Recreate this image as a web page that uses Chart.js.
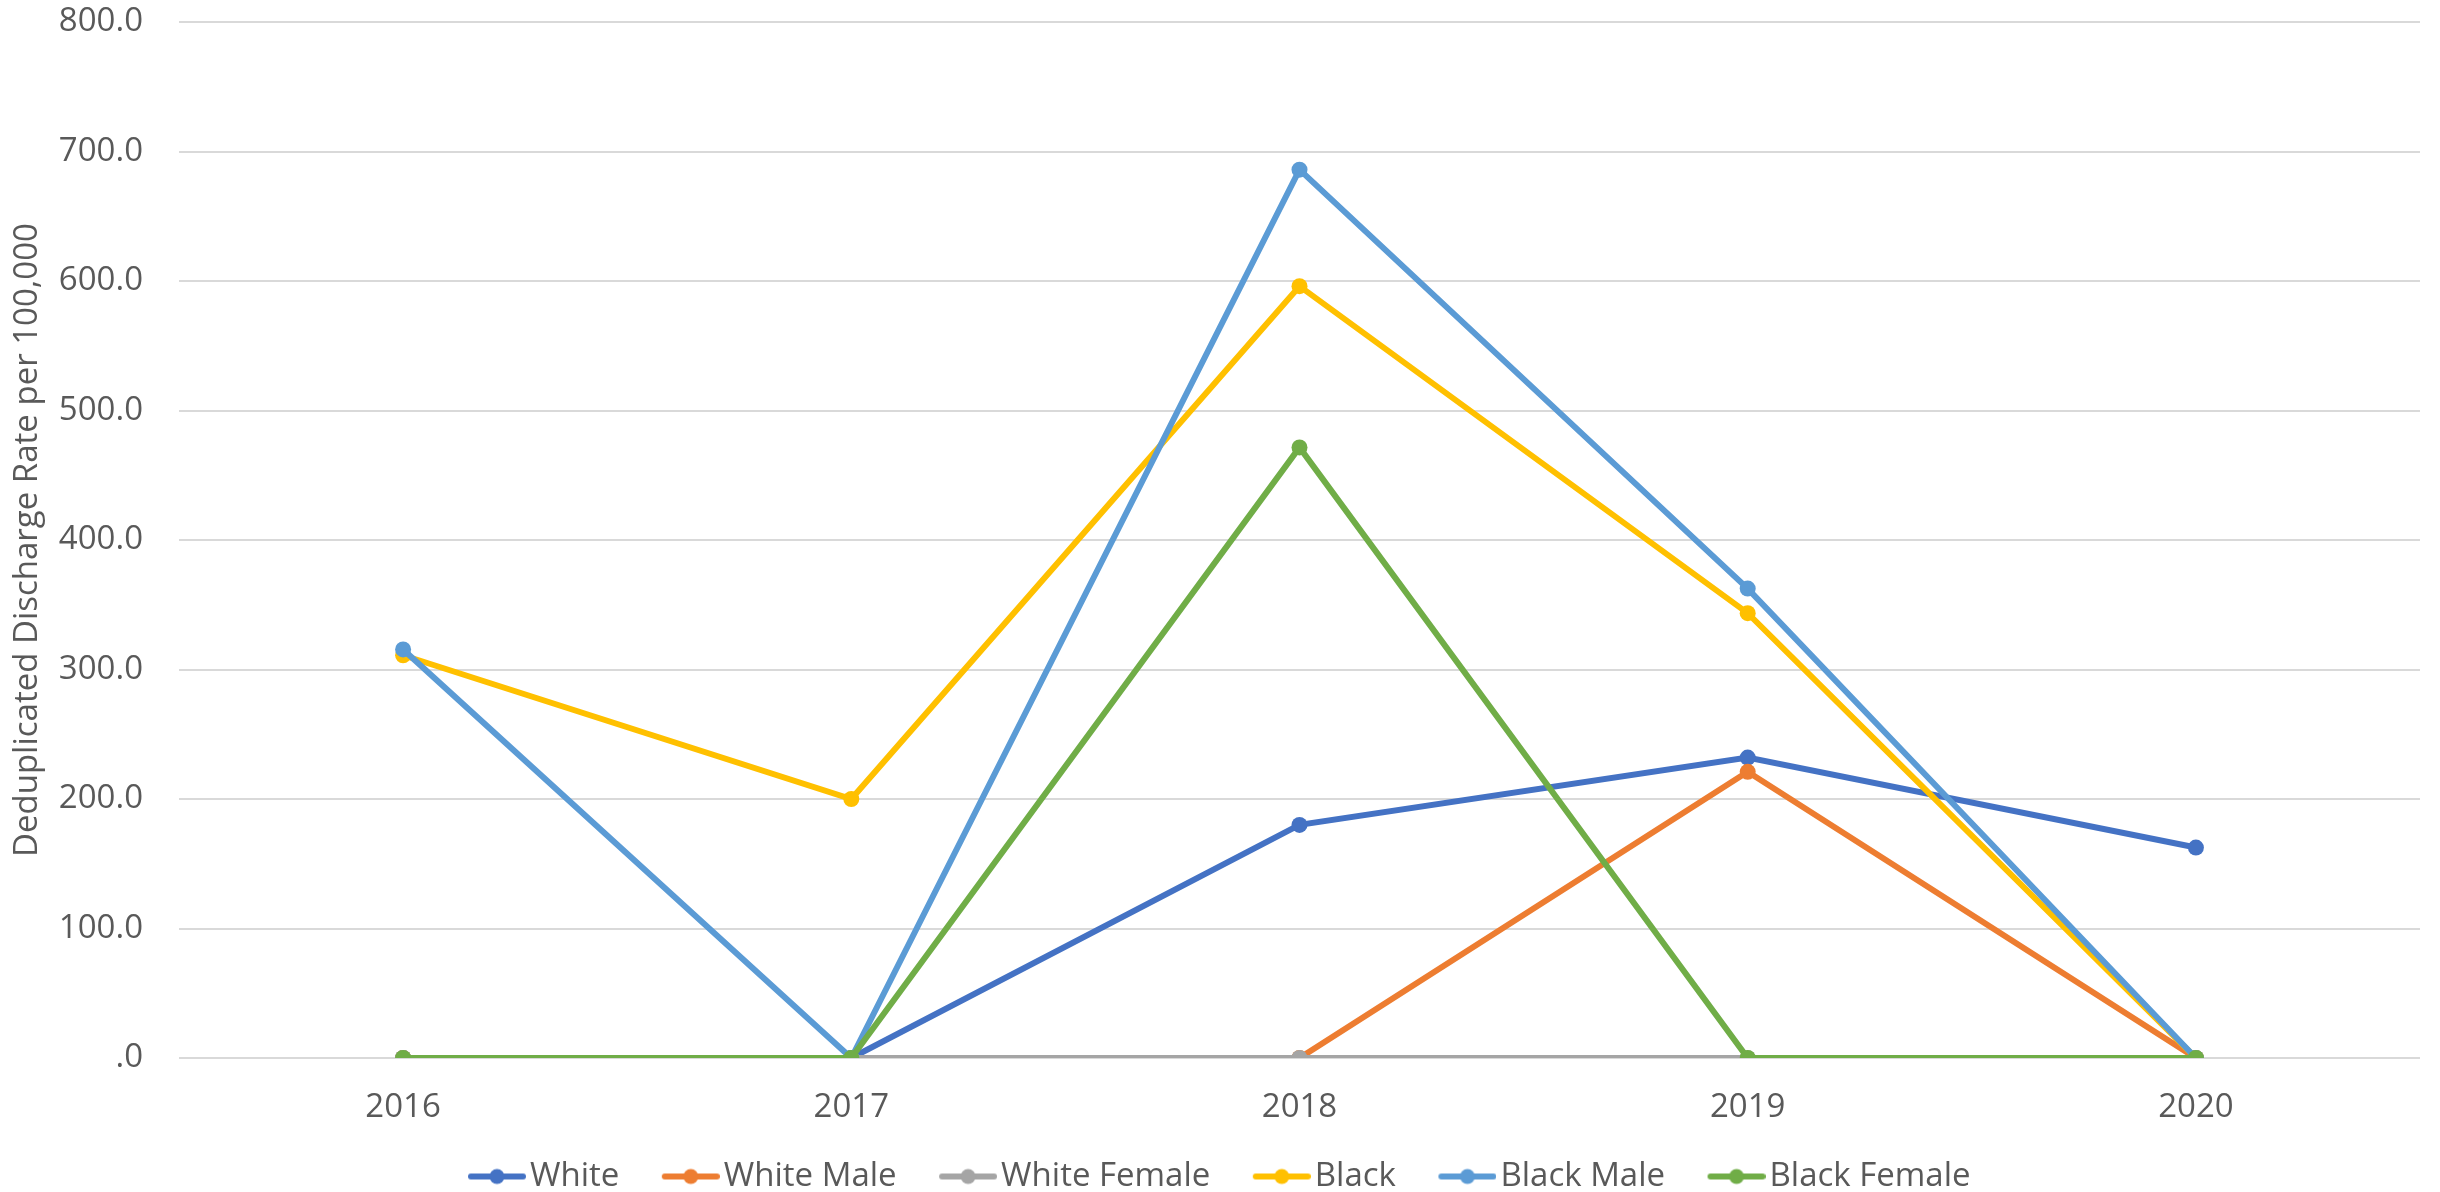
<!DOCTYPE html>
<html>
<head>
<meta charset="utf-8">
<script src="https://cdn.jsdelivr.net/npm/chart.js@4.4.1/dist/chart.umd.min.js"></script>
<style>
  html, body { margin: 0; padding: 0; background: #ffffff; }
  #wrap { width: 2440px; height: 1192px; }
</style>
</head>
<body>
<div id="wrap"><canvas id="c" width="2440" height="1192"></canvas></div>
<script>
// ---- data ----
const years = ['2016', '2017', '2018', '2019', '2020'];
const seriesNames = ['White', 'White Male', 'White Female', 'Black', 'Black Male', 'Black Female'];
const white        = [0, 0, 180, 232, 162.5];
const whiteMale    = [0, 0, 0, 221, 0];
const whiteFemale  = [0, 0, 0, 0, 0];
const black        = [311, 200, 596, 343.5, 0];
const blackMale    = [315.5, 0, 686, 362.5, 0];
const blackFemale  = [0, 0, 471.5, 0, 0];
const yTickLabels  = ['.0', '100.0', '200.0', '300.0', '400.0', '500.0', '600.0', '700.0', '800.0'];
const yTitle = 'Deduplicated Discharge Rate per 100,000';

const seriesValues = [white, whiteMale, whiteFemale, black, blackMale, blackFemale];
const colors = ['#4472C4', '#ED7D31', '#A5A5A5', '#FFC000', '#5B9BD5', '#70AD47'];
const textColor = '#595959';
const FONT = "'Open Sans', 'DejaVu Sans', sans-serif";
const FS = 33;

function legendIcon(color) {
  const c = document.createElement('canvas');
  c.width = 105; c.height = 22;
  const g = c.getContext('2d');
  g.strokeStyle = color; g.lineWidth = 6; g.lineCap = 'round';
  g.beginPath(); g.moveTo(50, 11); g.lineTo(102, 11); g.stroke();
  g.fillStyle = color;
  g.beginPath(); g.arc(76, 11, 7.5, 0, Math.PI * 2); g.fill();
  return c;
}
const icons = colors.map(legendIcon);

Chart.defaults.font.family = FONT;
Chart.defaults.color = textColor;

const datasets = seriesNames.map((name, i) => ({
  label: name,
  data: seriesValues[i],
  borderColor: colors[i],
  backgroundColor: colors[i],
  pointBackgroundColor: colors[i],
  pointBorderColor: colors[i],
  borderWidth: 6,
  pointRadius: 8,
  pointBorderWidth: 0,
  pointHoverRadius: 8,
  tension: 0,
  fill: false,
  order: seriesNames.length - i
}));

const legendShift = {
  id: 'legendShift',
  afterLayout(chart) {
    const lg = chart.legend;
    if (lg) { lg.left -= 8; lg.right -= 8; }
  }
};

new Chart(document.getElementById('c'), {
  type: 'line',
  data: { labels: years, datasets },
  plugins: [legendShift],
  options: {
    responsive: false,
    animation: false,
    devicePixelRatio: 1,
    layout: { padding: { top: 22, right: 20, bottom: -11, left: 0 } },
    plugins: {
      tooltip: { enabled: false },
      legend: {
        position: 'bottom',
        labels: {
          usePointStyle: true,
          pointStyleWidth: 80,
          padding: 8,
          color: textColor,
          font: { family: FONT, size: FS },
          generateLabels: (chart) => {
            const items = Chart.defaults.plugins.legend.labels.generateLabels(chart);
            items.sort((a, b) => a.datasetIndex - b.datasetIndex);
            items.forEach(it => { it.pointStyle = icons[it.datasetIndex]; it.fontColor = textColor; });
            return items;
          }
        }
      }
    },
    scales: {
      x: {
        offset: true,
        grid: { display: false, drawTicks: false },
        border: { display: false },
        ticks: { padding: 30, color: textColor, font: { family: FONT, size: FS }, maxRotation: 0 },
        afterFit: (s) => { s.height = 94; }
      },
      y: {
        min: 0, max: 800,
        ticks: {
          stepSize: 100,
          padding: 36,
          color: textColor,
          font: { family: FONT, size: FS },
          callback: (v, i) => yTickLabels[i]
        },
        grid: { color: '#D9D9D9', lineWidth: 2, drawTicks: false },
        border: { display: false },
        title: {
          display: true,
          text: yTitle,
          color: textColor,
          font: { family: FONT, size: FS },
          padding: { top: 8, bottom: 0 }
        },
        afterFit: (s) => { s.width = 179; s.paddingTop = 0; s.paddingBottom = 0; }
      }
    }
  }
});
</script>
</body>
</html>
